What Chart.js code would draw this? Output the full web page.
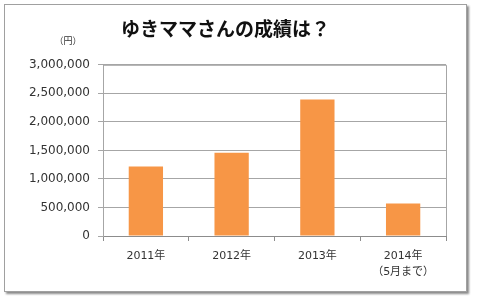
<!DOCTYPE html>
<html>
<head>
<meta charset="utf-8">
<script src="https://cdn.jsdelivr.net/npm/chart.js@4"></script>
<style>
    html, body { margin: 0; padding: 0; background: #fff; }
    #frame {
        position: absolute;
        left: 4px;
        top: 4px;
        width: 461px;
        height: 286px;
        border: 1px solid #a0a0a0;
        box-shadow: 2px 2px 2px #8a8a8a;
        background: #fff;
    }
    #salesChart { display: block; }
</style>
</head>
<body>
<div id="frame">
    <canvas id="salesChart" width="461" height="286"></canvas>
</div>
<script>
const years = [['2011年'], ['2012年'], ['2013年'], ['2014年', '（5月まで）']];
const earnings = [1220000, 1460000, 2390000, 570000];
const yTicks = [0, 500000, 1000000, 1500000, 2000000, 2500000, 3000000];
const chartTitle = 'ゆきママさんの成績は？';
const unitLabel = '（円）';

const numFont = 'DejaVu Sans, Noto Sans CJK JP, sans-serif';
const jpFont = 'Noto Sans CJK JP, sans-serif';

// draws the unit label and the box round the plot area
const extrasPlugin = {
    id: 'extras',
    afterDraw(chart) {
        const { ctx, chartArea } = chart;
        ctx.save();
        ctx.strokeStyle = '#a6a6a6';
        ctx.lineWidth = 1;
        ctx.beginPath();
        ctx.moveTo(chartArea.left, chartArea.top + 0.5);
        ctx.lineTo(chartArea.right + 0.5, chartArea.top + 0.5);
        ctx.lineTo(chartArea.right + 0.5, chartArea.bottom);
        ctx.stroke();
        ctx.fillStyle = '#333';
        ctx.font = '9px ' + jpFont;
        ctx.textAlign = 'center';
        ctx.textBaseline = 'middle';
        ctx.fillText(unitLabel, 63, 36);
        ctx.restore();
    }
};

const ctx = document.getElementById('salesChart').getContext('2d');
const chart = new Chart(ctx, {
    type: 'bar',
    data: {
        labels: years,
        datasets: [{
            data: earnings,
            backgroundColor: '#F79646',
            borderWidth: 0,
            categoryPercentage: 1,
            barPercentage: 0.4
        }]
    },
    options: {
        responsive: false,
        animation: false,
        layout: { padding: { left: 0, right: 20, top: 0, bottom: 0 } },
        plugins: {
            legend: { display: false },
            tooltip: { enabled: false },
            title: {
                display: true,
                text: chartTitle,
                color: '#111',
                font: { family: jpFont, size: 19, weight: 'bold', lineHeight: 1.2 },
                padding: { top: 12, bottom: 25 }
            }
        },
        scales: {
            x: {
                afterFit: (scale) => { scale.height = 55; },
                grid: {
                    offset: true,
                    drawOnChartArea: false,
                    drawTicks: true,
                    tickLength: 5,
                    color: '#8c8c8c'
                },
                border: { color: '#8c8c8c' },
                ticks: {
                    color: '#333',
                    padding: 7,
                    font: { family: numFont, size: 11, lineHeight: 1.45 }
                }
            },
            y: {
                min: 0,
                max: 3000000,
                afterFit: (scale) => { scale.width = 98; },
                afterBuildTicks: (scale) => {
                    scale.ticks = yTicks.map(v => ({ value: v }));
                },
                grid: {
                    color: '#a6a6a6',
                    tickLength: 5
                },
                border: { color: '#a6a6a6' },
                ticks: {
                    color: '#333',
                    padding: 8,
                    font: { family: numFont, size: 12 },
                    callback: (v) => v.toLocaleString('en-US')
                }
            }
        }
    },
    plugins: [extrasPlugin]
});
</script>
</body>
</html>
